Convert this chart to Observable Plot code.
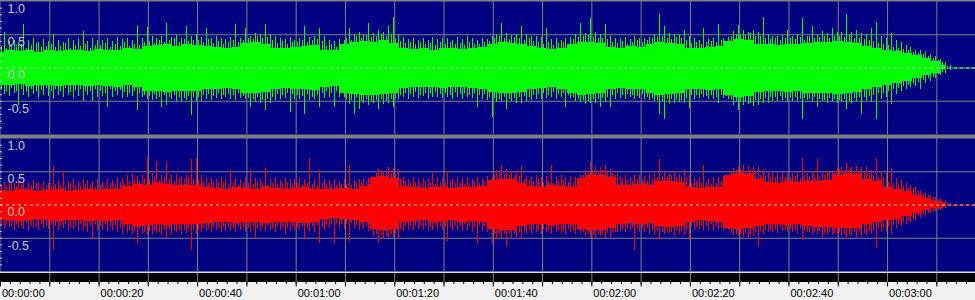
<!DOCTYPE html>
<html>
<head>
<meta charset="utf-8">
<script src="https://cdn.jsdelivr.net/npm/d3@7"></script>
<script src="https://cdn.jsdelivr.net/npm/@observablehq/plot@0.6"></script>
<style>html,body{margin:0;padding:0;background:#fff}</style>
</head>
<body>
<div id="chart"></div>
<script>
// ---- Channels ----
const channels = ["L", "R"];
const channelColors = ["#00ff00", "#ff0000"];

// ---- Dense core of the waveform, amplitude in % of full scale, one value every 2 s (t = 0..192) ----
const coreStep = 2;
const leftCoreUp = [
  24,26,25,27,24,26,25,27,26,25,
  28,26,27,29,28,32,34,35,33,35,
  34,32,31,30,31,37,39,36,30,29,
  31,33,34,27,26,35,38,40,39,41,
  37,30,28,29,27,29,30,28,29,31,
  36,38,37,36,32,29,28,30,36,39,
  38,37,31,30,32,31,36,38,37,35,
  30,29,31,32,40,43,42,36,35,34,
  36,35,37,38,39,40,38,37,33,29,
  27,25,22,19,15,10,4];
const leftCoreDown = [
  26,27,25,28,27,26,28,27,26,28,
  27,28,29,27,30,35,36,37,36,35,
  36,33,32,31,33,38,39,37,32,31,
  32,33,34,29,28,38,40,42,41,40,
  38,31,30,29,30,31,29,30,31,32,
  37,39,38,37,33,31,30,32,39,41,
  40,39,33,31,32,33,39,41,40,38,
  33,32,34,33,41,44,43,37,36,35,
  37,36,38,39,39,40,38,37,33,30,
  27,24,20,16,12,8,3];
const rightCoreUp = [
  22,21,23,22,20,22,23,21,22,23,
  22,24,23,28,31,30,32,31,30,29,
  30,27,25,24,26,25,24,26,25,24,
  25,26,24,24,23,25,24,28,41,43,
  40,28,26,25,27,26,25,27,26,28,
  37,39,38,32,28,27,29,28,27,40,
  45,44,42,30,29,31,30,35,36,34,
  27,25,26,27,44,47,46,38,34,33,
  35,34,36,35,37,45,47,46,38,35,
  27,24,20,14,10,6,3];
const rightCoreDown = [
  24,23,25,24,22,24,25,23,24,25,
  24,25,24,30,32,31,30,31,30,29,
  30,28,27,26,28,27,26,28,27,26,
  27,28,26,22,21,22,23,26,37,39,
  37,27,25,24,26,25,24,26,25,27,
  37,39,38,33,30,29,31,30,29,37,
  39,38,36,29,28,30,28,33,34,32,
  26,24,25,26,35,37,36,32,30,29,
  31,30,33,34,34,35,36,35,30,27,
  24,22,18,13,9,5,3];

// ---- Highest excursion in each 1 s bin (t = 0..192), % of full scale ----
const peakStep = 1;
const leftPeakUp = [
  53,40,42,38,66,41,44,39,43,40,
  50,42,39,45,41,43,55,40,44,41,
  42,45,40,46,43,44,41,64,45,61,
  47,45,48,67,46,49,44,62,47,50,
  46,60,44,47,45,43,46,65,44,60,
  48,52,50,66,51,47,44,43,46,42,
  45,63,46,48,60,47,41,40,43,42,
  60,50,53,51,67,52,57,54,63,76,
  50,46,43,45,41,44,42,46,43,45,
  44,42,46,43,47,44,41,45,43,47,
  50,67,52,49,51,63,50,48,47,46,
  60,43,44,42,45,46,50,67,52,74,
  53,51,66,47,45,44,46,43,47,45,
  44,46,50,81,63,52,51,49,57,48,
  44,42,60,43,45,66,44,46,55,64,
  56,54,57,53,76,50,48,47,49,57,
  48,50,74,47,63,49,55,52,59,53,
  54,81,53,57,52,50,59,69,48,45,
  52,42,38,34,31,27,26,24,20,17,
  13,9,4];
const leftPeakDown = [
  40,43,39,57,42,44,40,45,41,43,
  48,42,45,41,44,43,50,42,50,44,
  43,60,45,42,46,44,43,64,45,47,
  49,47,60,57,48,50,52,49,72,51,
  50,47,49,46,48,45,47,49,46,48,
  60,52,54,64,53,49,47,46,67,48,
  47,70,49,48,60,46,44,60,45,44,
  55,70,62,54,56,53,62,55,54,59,
  48,45,47,44,46,43,47,45,44,46,
  45,47,44,48,45,46,60,47,49,75,
  52,50,62,51,53,54,50,49,48,47,
  46,45,47,44,60,46,50,52,55,53,
  54,59,52,60,47,46,48,45,47,46,
  47,49,51,70,77,55,53,52,54,61,
  47,46,45,48,47,54,46,48,56,64,
  57,55,58,56,54,54,51,50,49,52,
  50,51,77,49,52,60,50,53,51,54,
  52,62,53,51,70,50,52,78,48,45,
  55,40,36,33,30,28,32,24,20,16,
  12,8,4];
const rightPeakUp = [
  34,36,32,38,35,33,37,34,36,33,
  58,37,50,35,38,36,39,37,35,38,
  36,39,37,41,40,44,46,43,45,71,
  47,66,45,66,44,46,43,45,69,70,
  45,42,40,39,41,38,52,40,39,41,
  52,40,38,55,39,41,37,40,38,39,
  40,38,70,39,52,38,37,39,36,38,
  60,37,39,38,40,42,54,50,56,55,
  53,42,39,41,38,40,39,48,41,40,
  50,39,41,40,42,39,41,40,43,42,
  52,60,53,51,49,58,43,41,44,42,
  43,60,41,44,42,43,41,44,52,64,
  57,56,60,54,45,43,44,42,45,44,
  43,46,48,68,49,47,50,46,52,44,
  40,41,60,39,42,41,43,40,55,57,
  59,58,57,56,52,50,48,47,49,48,
  47,49,70,48,50,68,49,51,50,55,
  57,62,56,58,57,56,52,70,50,47,
  53,40,37,33,30,26,22,18,15,12,
  9,6,3];
const rightPeakDown = [
  36,34,38,35,37,39,36,38,35,37,
  68,38,36,39,37,40,38,41,52,39,
  38,40,39,42,44,43,45,58,44,46,
  45,43,46,50,44,42,45,43,68,44,
  42,40,41,39,42,40,38,41,39,40,
  41,50,39,40,38,41,39,45,40,38,
  39,52,40,41,58,39,36,58,35,37,
  55,36,38,37,40,48,58,52,51,49,
  50,40,38,39,37,38,40,39,37,38,
  55,39,38,40,39,41,60,40,42,58,
  52,50,62,51,49,52,44,43,42,44,
  42,44,41,43,45,42,44,43,48,50,
  51,47,50,49,41,40,42,39,68,41,
  42,44,46,52,45,43,47,44,46,53,
  38,37,39,38,40,37,39,38,46,48,
  49,52,48,62,44,42,41,43,40,42,
  41,43,53,42,44,45,52,44,46,45,
  47,52,48,49,47,46,44,66,42,40,
  45,35,32,29,27,24,20,16,13,10,
  8,5,3];

// ---- Second-highest excursion in each 1 s bin (t = 0..192), % of full scale ----
const leftSecondUp = [
  33,30,36,31,35,29,34,37,31,33,
  35,31,33,37,30,34,32,36,29,34,
  34,37,31,35,33,38,32,36,34,39,
  40,37,42,38,41,44,39,43,40,42,
  41,38,43,37,40,36,39,42,38,41,
  45,43,47,44,46,41,37,40,36,38,
  39,42,38,41,43,40,33,35,31,34,
  44,42,47,45,49,46,48,50,47,51,
  45,40,37,39,36,38,35,37,34,38,
  36,39,35,37,34,38,36,35,39,40,
  44,47,45,43,46,44,42,45,40,38,
  36,38,34,37,39,35,43,46,47,49,
  46,44,45,43,39,37,40,36,39,41,
  38,42,44,46,47,45,43,46,44,42,
  37,39,36,38,40,39,41,38,47,50,
  51,49,52,48,47,44,43,45,42,44,
  45,43,46,42,47,44,46,48,45,47,
  48,46,49,45,44,43,41,40,37,36,
  34,31,30,28,26,24,22,20,17,15,
  11,8,3];
const leftSecondDown = [
  34,36,31,35,33,37,32,35,34,31,
  36,33,35,31,37,34,32,36,35,33,
  35,38,33,36,34,37,39,36,38,41,
  43,40,44,42,45,41,44,46,43,45,
  44,41,40,43,39,42,40,41,38,43,
  46,48,45,49,47,44,40,41,38,40,
  41,43,40,44,42,39,36,38,35,37,
  47,49,46,50,48,51,49,47,50,48,
  46,42,39,40,37,41,38,39,37,40,
  39,41,37,40,38,42,39,41,40,44,
  46,48,45,47,46,44,43,45,41,40,
  39,41,37,40,38,42,45,48,49,50,
  48,47,46,44,41,39,42,40,41,43,
  40,44,46,49,50,47,48,47,49,46,
  41,42,40,43,41,44,42,43,48,51,
  52,50,53,49,48,46,45,44,43,46,
  45,44,47,46,48,45,47,49,46,48,
  49,47,50,46,45,44,43,42,39,38,
  35,33,31,28,26,24,22,19,16,14,
  10,7,3];
const rightSecondUp = [
  29,27,31,28,30,26,29,32,27,30,
  28,31,29,27,32,30,28,31,29,27,
  30,28,32,29,34,31,36,38,35,39,
  38,40,37,41,39,36,40,38,41,39,
  37,35,33,34,32,34,31,33,30,32,
  33,31,34,32,30,33,31,32,34,30,
  32,30,33,31,29,32,30,31,29,30,
  31,30,33,32,35,38,47,49,50,48,
  44,39,35,33,34,32,35,33,31,34,
  33,35,32,34,31,33,35,32,34,37,
  45,47,46,44,45,43,39,37,36,38,
  34,36,33,35,37,34,33,36,44,48,
  51,50,52,49,48,47,38,37,36,38,
  37,36,39,41,43,42,44,41,42,40,
  33,35,32,34,31,33,35,36,49,52,
  53,51,52,50,45,44,42,41,40,42,
  41,43,40,44,42,45,43,44,49,51,
  53,52,54,51,50,49,46,44,42,41,
  34,32,30,28,25,23,20,17,15,12,
  9,6,3];
const rightSecondDown = [
  31,29,33,30,32,28,31,34,29,32,
  30,33,31,29,34,32,30,33,31,29,
  32,30,34,31,35,33,38,40,37,41,
  40,38,41,39,37,40,38,39,37,38,
  37,35,36,34,35,33,34,36,33,34,
  35,33,36,34,32,35,33,34,36,32,
  34,32,35,33,31,34,29,30,28,29,
  30,28,31,30,33,36,45,46,47,45,
  43,37,33,32,31,33,32,34,31,33,
  32,34,31,33,30,32,34,31,33,36,
  44,46,45,43,44,42,40,38,37,39,
  37,39,36,38,40,37,39,38,42,45,
  46,45,44,43,42,41,37,36,35,37,
  36,35,38,39,41,40,42,39,40,38,
  33,32,31,33,30,32,34,33,41,44,
  45,43,44,42,40,39,38,37,36,38,
  37,39,36,40,41,42,40,43,42,44,
  43,44,45,42,41,43,40,38,36,35,
  33,31,29,27,24,21,18,15,13,11,
  8,5,3];

// ---- Timing (seconds) ----
const silenceStart = 192.8;
const timeEnd = 197.85;
const gridTimes = [10,20,30,40,50,60,70,80,90,100,110,120,130,140,150,160,170,180,190];
const majorTimes = [0,10,20,30,40,50,60,70,80,90,100,110,120,130,140,150,160,170,180,190];
const minorTimes = [0,2,4,6,8,10,12,14,16,18,20,22,24,26,28,30,32,34,36,38,40,42,44,46,48,
  50,52,54,56,58,60,62,64,66,68,70,72,74,76,78,80,82,84,86,88,90,92,94,96,98,
  100,102,104,106,108,110,112,114,116,118,120,122,124,126,128,130,132,134,136,138,140,142,144,146,148,
  150,152,154,156,158,160,162,164,166,168,170,172,174,176,178,180,182,184,186,188,190,192,194,196];
const labelTimes = [0,20,40,60,80,100,120,140,160,180];
const timeLabels = ["00:00:00","00:00:20","00:00:40","00:01:00","00:01:20","00:01:40","00:02:00","00:02:20","00:02:40","00:03:00"];

// ---- Amplitude axis (% of full scale) ----
const yGrid = [50, -50];
const yLabelValues = [100, 50, 0, -50];
const yLabels = ["1.0", "0.5", "0.0", "-0.5"];
const yTicks = [90,80,70,60,50,40,30,20,10,0,-10,-20,-30,-40,-50,-60,-70,-80,-90];

// ---- Tables built from the arrays ----
const coreTable = [];
const toothTable = [];
channels.forEach((ch, c) => {
  const cu = [leftCoreUp, rightCoreUp][c], cd = [leftCoreDown, rightCoreDown][c];
  cu.forEach((v, i) => coreTable.push({ch, t: i * coreStep, up: v, down: cd[i]}));
  const pu = [leftPeakUp, rightPeakUp][c], pd = [leftPeakDown, rightPeakDown][c];
  const su = [leftSecondUp, rightSecondUp][c], sd = [leftSecondDown, rightSecondDown][c];
  pu.forEach((v, i) => toothTable.push({ch, t: i * peakStep + 0.75 * peakStep, up: v, down: pd[i]}));
  su.forEach((v, i) => toothTable.push({ch, t: i * peakStep + 0.25 * peakStep, up: v, down: sd[i]}));
});

const navy = "#000080";
const gridGray = "#808080";
const labelGray = "#c8c8c8";

const chart = Plot.plot({
  width: 975,
  height: 300,
  marginTop: 1,
  marginBottom: 29,
  marginLeft: 0,
  marginRight: 0,
  style: {
    background: "linear-gradient(to bottom, #808080 0px, #808080 271px, #dcdcdc 271px, #dcdcdc 273px, #000 273px, #000 282px, #f0f0f0 282px, #f0f0f0 300px)",
    fontFamily: "'Liberation Sans', Arial, sans-serif",
    fontSize: "11px",
    overflow: "visible"
  },
  x: {domain: [0, timeEnd], axis: null},
  y: {domain: [-100, 100], axis: null},
  fy: {domain: channels, axis: null, paddingInner: 0.0292, paddingOuter: 0},
  color: {domain: channels, range: channelColors},
  marks: [
    Plot.frame({fill: navy, stroke: "none"}),
    Plot.gridX(gridTimes, {stroke: gridGray, strokeOpacity: 1}),
    Plot.gridY(yGrid, {stroke: gridGray, strokeOpacity: 1}),
    Plot.areaY(coreTable, {x: "t", y1: d => -d.down, y2: "up", fy: "ch", fill: "ch", z: "ch", curve: "step", shapeRendering: "crispEdges"}),
    Plot.ruleX(toothTable, {x: "t", y1: d => -d.down, y2: "up", fy: "ch", stroke: "ch", strokeWidth: 1, shapeRendering: "crispEdges"}),
    Plot.ruleY(channels, {y: 0, x1: silenceStart, x2: timeEnd, fy: d => d, stroke: d => d}),
    Plot.ruleY([0], {stroke: labelGray, strokeDasharray: "3,3"}),
    Plot.text(yLabelValues, {y: d => d, text: (d, i) => yLabels[i], frameAnchor: "left", textAnchor: "start", lineAnchor: "top", dx: 7, dy: 2.5, fill: labelGray, fontSize: 12.5}),
    Plot.axisY(yTicks, {anchor: "left", tickSize: 2, dx: 2, stroke: labelGray, fill: "none", label: null}),
    Plot.axisX(gridTimes, {anchor: "bottom", tickSize: 9, dy: 2, stroke: gridGray, fill: "none", label: null}),
    Plot.axisX(minorTimes, {anchor: "bottom", tickSize: 2, dy: 11, stroke: "#000", fill: "none", label: null}),
    Plot.axisX(majorTimes, {anchor: "bottom", tickSize: 4.5, dy: 11, stroke: "#000", fill: "none", label: null}),
    Plot.axisX(labelTimes, {anchor: "bottom", tickSize: 0, tickPadding: 0, dy: 18, dx: 1.5, textAnchor: "start",
      tickFormat: d => timeLabels[labelTimes.indexOf(d)], fill: "#000", fontSize: 11, label: null})
  ]
});
document.getElementById("chart").appendChild(chart);
</script>
</body>
</html>
